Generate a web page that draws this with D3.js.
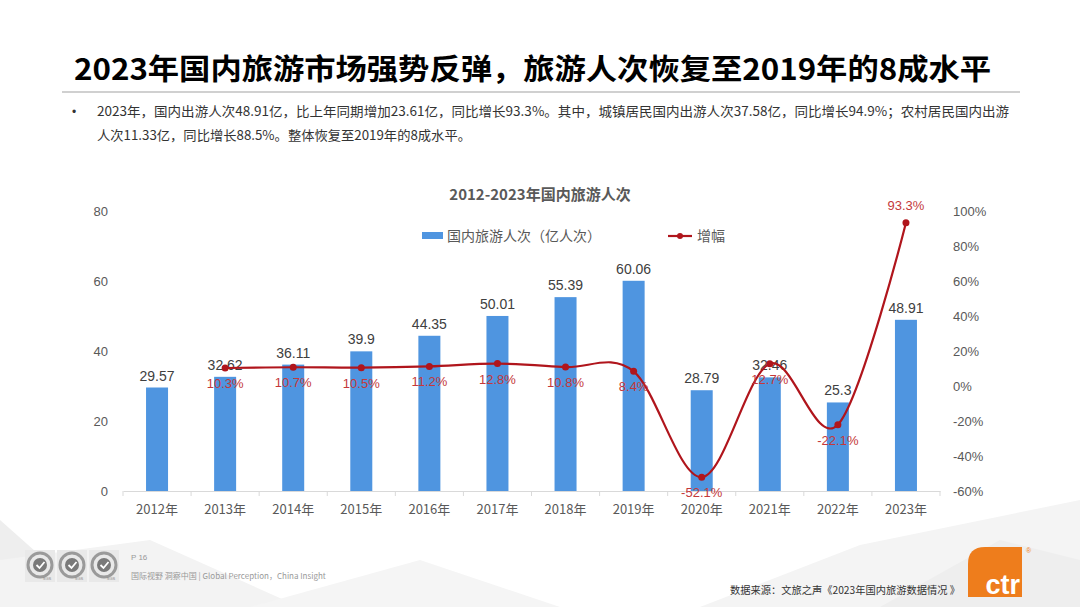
<!DOCTYPE html>
<html>
<head>
<meta charset="utf-8">
<script src="https://cdn.jsdelivr.net/npm/d3@7"></script>
<style>
  body { margin: 0; background: #fff; }
  svg { display: block; }
</style>
</head>
<body>
<script>
// data
var years = ["2012年","2013年","2014年","2015年","2016年","2017年","2018年","2019年","2020年","2021年","2022年","2023年"];
var trips = [29.57, 32.62, 36.11, 39.9, 44.35, 50.01, 55.39, 60.06, 28.79, 32.46, 25.3, 48.91];
var growth = [null, 0.103, 0.107, 0.105, 0.112, 0.128, 0.108, 0.084, -0.521, 0.127, -0.221, 0.933];
var leftTicks = [0, 20, 40, 60, 80];
var rightTicks = [-0.6, -0.4, -0.2, 0, 0.2, 0.4, 0.6, 0.8, 1.0];

var W = 1080, H = 607;
var font = "'Liberation Sans', 'Noto Sans CJK SC', sans-serif";
var cjk = "'Noto Sans CJK SC', 'Liberation Sans', sans-serif";

var svg = d3.select("body").append("svg")
    .attr("width", W)
    .attr("height", H);

// faint background shapes at the bottom
var bg = svg.append("g");
bg.append("path").attr("d", "M0,520 L90,600 L0,607 Z").attr("fill", "#eeeeee");
bg.append("path").attr("d", "M0,560 L150,540 L300,607 L0,607 Z").attr("fill", "#f3f3f3");
bg.append("path").attr("d", "M250,607 L420,560 L560,607 Z").attr("fill", "#f5f5f5");
bg.append("path").attr("d", "M700,607 L860,545 L1080,500 L1080,607 Z").attr("fill", "#f4f4f4");
bg.append("path").attr("d", "M880,607 L1000,540 L1080,560 L1080,607 Z").attr("fill", "#eeeeee");

// header
svg.append("text")
    .attr("x", 74).attr("y", 80)
    .attr("textLength", 917).attr("lengthAdjust", "spacingAndGlyphs")
    .attr("font-family", cjk).attr("font-weight", "bold")
    .attr("font-size", "29px").attr("fill", "#000")
    .text("2023年国内旅游市场强势反弹，旅游人次恢复至2019年的8成水平");
svg.append("line")
    .attr("x1", 62).attr("x2", 1020).attr("y1", 92).attr("y2", 92)
    .style("stroke", "#d0d0d0").style("stroke-width", 2);

svg.append("text")
    .attr("x", 72).attr("y", 116)
    .attr("font-family", font).attr("font-size", "12px").attr("fill", "#333")
    .text("•");
svg.append("text")
    .attr("x", 97).attr("y", 116)
    .attr("textLength", 912).attr("lengthAdjust", "spacingAndGlyphs")
    .attr("font-family", cjk).attr("font-size", "13px").attr("fill", "#333")
    .text("2023年，国内出游人次48.91亿，比上年同期增加23.61亿，同比增长93.3%。其中，城镇居民国内出游人次37.58亿，同比增长94.9%；农村居民国内出游");
svg.append("text")
    .attr("x", 97).attr("y", 140)
    .attr("textLength", 374).attr("lengthAdjust", "spacingAndGlyphs")
    .attr("font-family", cjk).attr("font-size", "13px").attr("fill", "#333")
    .text("人次11.33亿，同比增长88.5%。整体恢复至2019年的8成水平。");

// chart title
svg.append("text")
    .attr("x", 540).attr("y", 200)
    .attr("text-anchor", "middle")
    .attr("font-family", cjk).attr("font-weight", "bold")
    .attr("font-size", "15px").attr("fill", "#595959")
    .text("2012-2023年国内旅游人次");

// scales
var x = d3.scaleBand().domain(years).range([123, 940]).paddingInner(0).paddingOuter(0);
var yL = d3.scaleLinear().domain([0, 80]).range([491, 211]);
var yR = d3.scaleLinear().domain([-0.6, 1.0]).range([491, 211]);
var barW = 22;

// axes
var xAxis = svg.append("g")
    .attr("transform", "translate(0,491)")
    .call(d3.axisBottom(x).tickSize(0).tickPadding(14));
xAxis.select(".domain").style("stroke", "#d9d9d9");
xAxis.selectAll("text")
    .attr("font-family", cjk).attr("font-size", "13px").attr("fill", "#595959");
// category boundary ticks
svg.append("g").selectAll("line")
    .data(years.concat(["end"]))
    .enter().append("line")
    .attr("x1", function(d, i) { return 123 + i * x.bandwidth(); })
    .attr("x2", function(d, i) { return 123 + i * x.bandwidth(); })
    .attr("y1", 491).attr("y2", 496)
    .style("stroke", "#d9d9d9");

var leftAxis = svg.append("g")
    .attr("transform", "translate(108,0)")
    .call(d3.axisLeft(yL).tickValues(leftTicks).tickSize(0).tickPadding(0));
leftAxis.select(".domain").remove();
leftAxis.selectAll("text")
    .attr("font-family", font).attr("font-size", "13px").attr("fill", "#595959");

var rightAxis = svg.append("g")
    .attr("transform", "translate(953,0)")
    .call(d3.axisRight(yR).tickValues(rightTicks).tickSize(0).tickPadding(0)
        .tickFormat(function(d) { return Math.round(d * 100) + "%"; }));
rightAxis.select(".domain").remove();
rightAxis.selectAll("text")
    .attr("font-family", font).attr("font-size", "13px").attr("fill", "#595959");

// bars
var cx = function(i) { return x(years[i]) + x.bandwidth() / 2; };
svg.append("g").selectAll("rect")
    .data(trips)
    .enter().append("rect")
    .attr("x", function(d, i) { return cx(i) - barW / 2; })
    .attr("y", function(d) { return yL(d); })
    .attr("width", barW)
    .attr("height", function(d) { return yL(0) - yL(d); })
    .style("fill", "#4f95e0");

svg.append("g").selectAll("text")
    .data(trips)
    .enter().append("text")
    .attr("x", function(d, i) { return cx(i); })
    .attr("y", function(d) { return yL(d) - 7; })
    .attr("text-anchor", "middle")
    .attr("font-family", font).attr("font-size", "14px").attr("fill", "#404040")
    .text(function(d) { return d; });

// growth line
var pts = [];
growth.forEach(function(g, i) { if (g !== null) pts.push({i: i, g: g}); });
var line = d3.line()
    .x(function(d) { return cx(d.i); })
    .y(function(d) { return yR(d.g); })
    .curve(d3.curveCardinal.tension(0));
svg.append("path")
    .datum(pts)
    .attr("d", line)
    .style("fill", "none")
    .style("stroke", "#b0151c")
    .style("stroke-width", 2.2);
svg.append("g").selectAll("circle")
    .data(pts)
    .enter().append("circle")
    .attr("cx", function(d) { return cx(d.i); })
    .attr("cy", function(d) { return yR(d.g); })
    .attr("r", 3.5)
    .style("fill", "#b0151c");

svg.append("g").selectAll("text")
    .data(pts)
    .enter().append("text")
    .attr("x", function(d) { return cx(d.i); })
    .attr("y", function(d) { return d.g > 0.5 ? yR(d.g) - 13 : yR(d.g) + 20; })
    .attr("text-anchor", "middle")
    .attr("font-family", font).attr("font-size", "13px").attr("fill", "#c4383a")
    .text(function(d) { return (d.g * 100).toFixed(1) + "%"; });

// legend
var lg = svg.append("g");
lg.append("rect").attr("x", 422).attr("y", 232).attr("width", 21).attr("height", 7).style("fill", "#4f95e0");
lg.append("text").attr("x", 447).attr("y", 241)
    .attr("font-family", cjk).attr("font-size", "14px").attr("fill", "#595959")
    .text("国内旅游人次（亿人次）");
lg.append("line").attr("x1", 668).attr("x2", 692).attr("y1", 236).attr("y2", 236)
    .style("stroke", "#b0151c").style("stroke-width", 2.2);
lg.append("circle").attr("cx", 680).attr("cy", 236).attr("r", 3).style("fill", "#b0151c");
lg.append("text").attr("x", 697).attr("y", 241)
    .attr("font-family", cjk).attr("font-size", "14px").attr("fill", "#595959")
    .text("增幅");

// footer left: certification badges
var badges = [40, 72, 104];
var bd = svg.append("g");
badges.forEach(function(bx) {
  bd.append("rect").attr("x", bx - 15).attr("y", 550).attr("width", 30).attr("height", 32).style("fill", "#e9e9e9");
  bd.append("circle").attr("cx", bx).attr("cy", 565).attr("r", 12)
      .style("fill", "none").style("stroke", "#9a9a9a").style("stroke-width", 3);
  bd.append("circle").attr("cx", bx).attr("cy", 565).attr("r", 7).style("fill", "#7a7a7a");
  bd.append("path").attr("d", "M" + (bx - 3.5) + ",565 l3,3 l5,-6")
      .style("fill", "none").style("stroke", "#fff").style("stroke-width", 1.8);
  bd.append("text").attr("x", bx + 7).attr("y", 580).attr("text-anchor", "middle")
      .attr("font-family", font).attr("font-size", "4px").attr("fill", "#888").text("SGS");
});
svg.append("text").attr("x", 131).attr("y", 560)
    .attr("font-family", font).attr("font-size", "8px").attr("fill", "#999").text("P 16");
svg.append("text").attr("x", 131).attr("y", 579)
    .attr("font-family", cjk).attr("font-size", "8px").attr("fill", "#999")
    .text("国际视野  洞察中国 | Global Perception，China Insight");

// footer right: source and logo
svg.append("text").attr("x", 730).attr("y", 594)
    .attr("textLength", 230).attr("lengthAdjust", "spacingAndGlyphs")
    .attr("font-family", cjk).attr("font-size", "10.5px").attr("fill", "#333")
    .text("数据来源：文旅之声《2023年国内旅游数据情况 》");
svg.append("path")
    .attr("d", "M985,547 L1022,547 L1022,597 L968,597 L968,564 Q968,547 985,547 Z")
    .style("fill", "#ee7d1c");
svg.append("text").attr("x", 1020).attr("y", 594).attr("text-anchor", "end")
    .attr("font-family", font).attr("font-weight", "bold")
    .attr("font-size", "27px").attr("fill", "#fff").text("ctr");
svg.append("text").attr("x", 1026).attr("y", 553)
    .attr("font-family", font).attr("font-size", "7px").attr("fill", "#ee7d1c").text("®");
</script>
</body>
</html>
